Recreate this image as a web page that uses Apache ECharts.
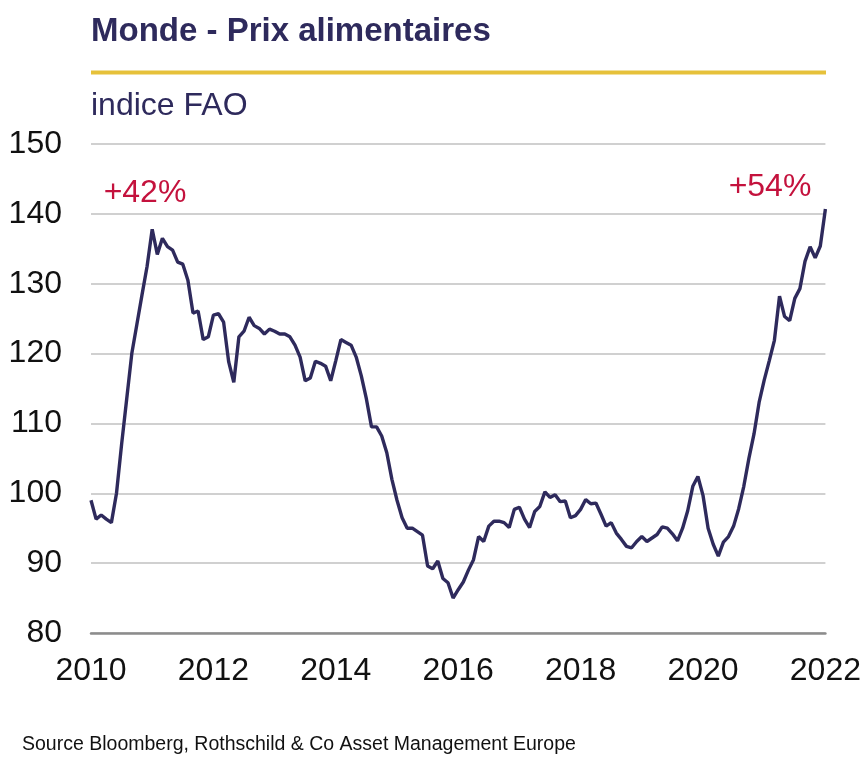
<!DOCTYPE html>
<html>
<head>
<meta charset="utf-8">
<title>Monde - Prix alimentaires</title>
<script src="https://cdn.jsdelivr.net/npm/echarts@6/dist/echarts.min.js"></script>
<style>
  html, body { margin: 0; padding: 0; background: #fff; }
  #chart { width: 864px; height: 772px; }
</style>
</head>
<body>
<div id="chart"></div>
<script>
// FAO food price index, monthly, Feb 2010 -> Feb 2022
var startYear = 2010, startMonth = 2;
var fao = [
  99.0, 96.3, 96.9, 96.3, 95.8, 100.0, 107.0, 113.5, 120.0, 124.2, 128.4, 132.5,
  137.8, 134.2, 136.5, 135.3, 134.8, 133.1, 132.8, 130.5, 125.8, 126.1, 122.0, 122.4,
  125.5, 125.7, 124.5, 118.8, 115.9, 122.4, 123.2, 125.2, 124.0, 123.6, 122.8, 123.5,
  123.2, 122.8, 122.8, 122.4, 121.2, 119.5, 116.1, 116.5, 118.9, 118.6, 118.2, 116.1,
  119.0, 122.0, 121.6, 121.2, 119.5, 116.8, 113.5, 109.5, 109.5, 108.2, 105.8, 102.0,
  99.0, 96.5, 95.0, 95.0, 94.5, 94.0, 89.6, 89.2, 90.3, 87.8, 87.2, 85.0,
  86.2, 87.3, 89.0, 90.5, 93.8, 93.1, 95.3, 96.0, 96.0, 95.8, 95.1, 97.7,
  98.0, 96.3, 95.1, 97.4, 98.1, 100.2, 99.4, 99.8, 98.8, 98.9, 96.5, 96.8,
  97.7, 99.1, 98.5, 98.6, 97.0, 95.3, 95.8, 94.3, 93.4, 92.4, 92.2, 93.1,
  93.8, 93.1, 93.6, 94.1, 95.2, 95.0, 94.2, 93.2, 95.0, 97.5, 101.0, 102.4,
  99.7, 95.0, 92.7, 91.0, 93.0, 93.8, 95.3, 97.8, 101.0, 105.0, 108.5, 113.0,
  116.2, 119.0, 121.9, 128.2, 125.3, 124.7, 127.9, 129.3, 133.2, 135.3, 133.7, 135.4,
  140.7
];
var yTicks = [80, 150, 10]; // min, max, step
var notes = ["+42%", "+54%"];

var months = [];
for (var k = 0; k < fao.length; k++) {
  var m = startMonth - 1 + k;
  var yy = startYear + Math.floor(m / 12), mm = (m % 12) + 1;
  months.push(yy + "-" + (mm < 10 ? "0" + mm : mm));
}

var font = "Liberation Sans, Arial, sans-serif";
var navy = "#2e2a5c";

var chart = echarts.init(document.getElementById("chart"), null, { renderer: "canvas" });
chart.setOption({
  animation: false,
  backgroundColor: "#fff",
  textStyle: { fontFamily: font },
  grid: { left: 91, right: 38, top: 144, bottom: 139, containLabel: false },
  xAxis: {
    type: "category",
    data: months,
    boundaryGap: false,
    axisLine: { show: true, lineStyle: { color: "#8c8c8c", width: 2.5 } },
    axisTick: { show: false },
    splitLine: { show: false },
    axisLabel: {
      interval: function (i) { return i % 24 === 0; },
      formatter: function (v) { return v.slice(0, 4); },
      color: "#111",
      fontSize: 32,
      fontFamily: font,
      margin: 22,
      showMaxLabel: true
    }
  },
  yAxis: {
    type: "value",
    min: yTicks[0],
    max: yTicks[1],
    interval: yTicks[2],
    axisLine: { show: false },
    axisTick: { show: false },
    splitLine: { lineStyle: { color: "#c0c0c0", width: 1.5 } },
    axisLabel: { color: "#111", fontSize: 32, fontFamily: font, margin: 29 }
  },
  series: [{
    name: "indice FAO",
    type: "line",
    data: fao,
    symbol: "none",
    lineStyle: { color: navy, width: 3.4 },
    z: 5
  }],
  graphic: [
    { type: "text", left: 91, top: 15,
      style: { text: "Monde - Prix alimentaires", fill: navy, font: "bold 33px " + font } },
    { type: "line", shape: { x1: 91, y1: 72.5, x2: 826, y2: 72.5 },
      style: { stroke: "#e6c13a", lineWidth: 4 } },
    { type: "text", left: 91, top: 90,
      style: { text: "indice FAO", fill: navy, font: "32px " + font } },
    { type: "text", x: 145, y: 193,
      style: { text: notes[0], fill: "#c4123d", font: "32px " + font, align: "center", verticalAlign: "middle" } },
    { type: "text", x: 770, y: 187,
      style: { text: notes[1], fill: "#c4123d", font: "32px " + font, align: "center", verticalAlign: "middle" } },
    { type: "text", left: 22, top: 735,
      style: { text: "Source Bloomberg, Rothschild & Co Asset Management Europe", fill: "#111", font: "19.5px " + font } }
  ]
});
</script>
</body>
</html>
